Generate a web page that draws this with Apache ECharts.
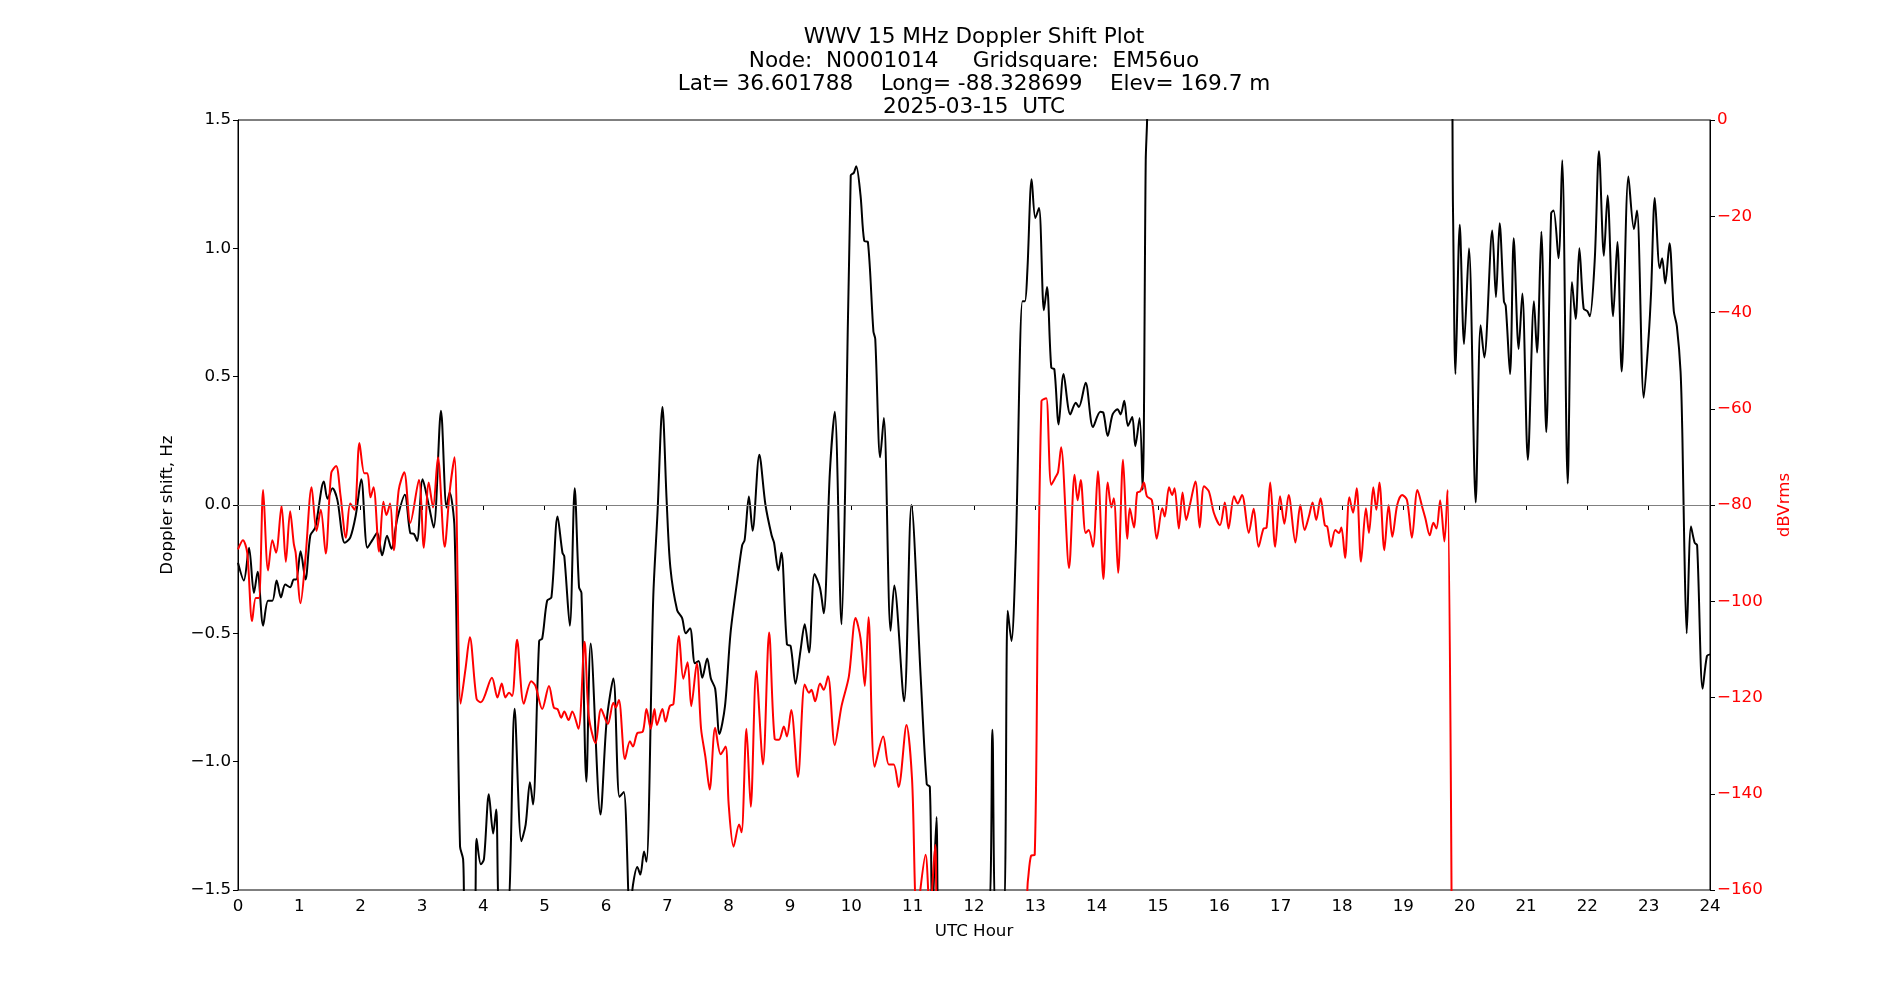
<!DOCTYPE html>
<html>
<head>
<meta charset="utf-8">
<script src="https://cdn.jsdelivr.net/npm/echarts@6/dist/echarts.min.js"></script>
<style>
html,body{margin:0;padding:0;background:#fff;}
#chart{width:1900px;height:1000px;}
</style>
</head>
<body>
<div id="chart"></div>
<script>
// ---- Data ----
const titleLines = [
  "WWV 15 MHz Doppler Shift Plot",
  "Node:  N0001014     Gridsquare:  EM56uo",
  "Lat= 36.601788    Long= -88.328699    Elev= 169.7 m",
  "2025-03-15  UTC"
];

// Doppler shift (Hz), left axis. Values beyond +/-1.5 run off the plot.
const dopplerHours = [
  0,0.095,0.18,0.26,0.32,0.41,0.49,0.56,0.63,0.70,0.77,0.85,0.91,0.95,1.02,1.10,1.18,1.26,1.40,1.46,
  1.54,1.62,1.74,1.83,1.92,2.01,2.11,2.19,2.27,2.35,2.43,2.50,2.60,2.72,2.81,2.87,2.92,3.01,3.11,3.19,
  3.31,3.40,3.45,3.53,3.62,3.67,3.71,3.85,3.89,3.96,4.01,4.09,4.16,4.21,4.27,4.39,4.51,4.62,4.69,4.76,
  4.81,4.91,4.96,5.04,5.11,5.21,5.29,5.32,5.41,5.49,5.56,5.60,5.68,5.75,5.91,6.01,6.12,6.22,6.29,6.39,
  6.44,6.51,6.56,6.62,6.66,6.77,6.84,6.92,6.99,7.05,7.16,7.24,7.30,7.37,7.45,7.51,7.57,7.65,7.71,7.78,
  7.85,7.94,8.03,8.14,8.22,8.26,8.33,8.39,8.50,8.60,8.70,8.74,8.81,8.86,8.95,9.01,9.09,9.17,9.24,9.31,
  9.40,9.49,9.55,9.65,9.73,9.84,9.90,9.99,10.04,10.08,10.15,10.21,10.27,10.36,10.39,10.47,10.53,10.64,10.70,10.86,
  10.98,11.13,11.23,11.28,11.32,11.39,11.43,12.23,12.30,12.36,12.48,12.55,12.61,12.68,12.79,12.83,12.87,12.94,13.00,13.06,
  13.14,13.19,13.26,13.31,13.38,13.46,13.57,13.66,13.71,13.82,13.94,14.06,14.11,14.18,14.26,14.34,14.39,14.45,14.51,14.58,
  14.63,14.70,14.75,14.80,14.82,14.86,19.77,19.81,19.85,19.92,19.99,20.07,20.18,20.26,20.32,20.45,20.51,20.57,20.64,20.67,
  20.74,20.80,20.88,20.94,21.03,21.13,21.18,21.25,21.33,21.41,21.45,21.53,21.59,21.68,21.75,21.81,21.87,21.94,22.00,22.04,
  22.12,22.19,22.27,22.33,22.42,22.49,22.56,22.67,22.76,22.81,22.92,23.00,23.04,23.10,23.18,23.22,23.27,23.34,23.41,23.46,
  23.52,23.55,23.58,23.62,23.69,23.75,23.79,23.88,23.95,24.00
];
const dopplerHz = [
  -0.225,-0.294,-0.167,-0.343,-0.26,-0.47,-0.373,-0.373,-0.294,-0.36,-0.31,-0.32,-0.29,-0.29,-0.18,-0.29,-0.118,-0.088,0.092,0.024,
  0.065,0.02,-0.147,-0.127,-0.04,0.10,-0.167,-0.137,-0.108,-0.196,-0.12,-0.17,-0.05,0.04,-0.11,-0.113,-0.14,0.10,0.0,-0.088,
  0.367,-0.01,0.05,-0.09,-1.33,-1.38,-1.6,-1.6,-1.30,-1.40,-1.38,-1.127,-1.28,-1.186,-1.6,-1.6,-0.794,-1.31,-1.245,-1.08,
  -1.167,-0.53,-0.52,-0.373,-0.36,-0.045,-0.186,-0.2,-0.47,0.065,-0.32,-0.343,-1.078,-0.54,-1.206,-0.843,-0.676,-1.137,-1.118,-1.6,
  -1.48,-1.41,-1.44,-1.35,-1.39,-0.363,-0.03,0.382,0.01,-0.245,-0.41,-0.44,-0.5,-0.48,-0.617,-0.608,-0.673,-0.598,-0.676,-0.716,
  -0.892,-0.784,-0.5,-0.294,-0.157,-0.137,0.033,-0.10,0.196,0.0,-0.118,-0.147,-0.255,-0.186,-0.543,-0.549,-0.696,-0.569,-0.465,-0.575,
  -0.269,-0.324,-0.422,0.127,0.363,-0.465,0.069,1.284,1.294,1.32,1.206,1.029,1.025,0.676,0.647,0.186,0.339,-0.49,-0.314,-0.765,
  0.0,-0.667,-1.088,-1.098,-1.6,-1.216,-1.6,-1.6,-0.876,-1.6,-1.6,-0.412,-0.53,-0.186,0.794,0.794,0.912,1.269,1.118,1.157,
  0.759,0.849,0.535,0.529,0.314,0.51,0.353,0.398,0.382,0.476,0.304,0.363,0.359,0.269,0.353,0.373,0.353,0.406,0.308,0.343,
  0.229,0.339,0.059,1.343,1.48,1.8,1.8,1.147,0.51,1.092,0.627,1.0,0.01,0.70,0.575,1.069,0.81,1.098,0.794,0.775,
  0.51,1.039,0.608,0.824,0.176,0.794,0.594,1.065,0.284,1.137,1.147,0.961,1.343,0.084,0.869,0.725,1.0,0.765,0.755,0.735,
  0.951,1.378,0.971,1.206,0.735,1.025,0.52,1.28,1.075,1.147,0.418,0.657,0.833,1.196,0.922,0.961,0.863,1.02,0.755,0.696,
  0.52,0.265,-0.147,-0.5,-0.084,-0.147,-0.157,-0.716,-0.588,-0.582
];

// Signal level (dBVrms), right axis. Values below -160 run off the plot.
const powerHours = [
  0,0.08,0.15,0.23,0.29,0.34,0.41,0.49,0.56,0.62,0.71,0.78,0.85,0.91,0.94,1.02,1.10,1.20,1.28,1.35,
  1.43,1.52,1.60,1.67,1.76,1.83,1.90,1.98,2.06,2.11,2.16,2.21,2.30,2.37,2.42,2.48,2.54,2.62,2.71,2.81,
  2.95,3.03,3.11,3.18,3.26,3.37,3.45,3.53,3.63,3.71,3.78,3.89,3.96,4.14,4.23,4.30,4.36,4.42,4.47,4.55,
  4.66,4.78,4.85,4.96,5.07,5.15,5.21,5.27,5.32,5.39,5.45,5.55,5.65,5.72,5.83,5.92,6.03,6.12,6.16,6.21,
  6.31,6.39,6.44,6.51,6.60,6.66,6.73,6.79,6.83,6.92,6.97,7.04,7.10,7.19,7.26,7.33,7.39,7.48,7.55,7.62,
  7.69,7.78,7.87,7.95,8.00,8.08,8.17,8.21,8.29,8.36,8.45,8.56,8.66,8.75,8.82,8.90,8.95,9.02,9.13,9.24,
  9.31,9.35,9.41,9.49,9.55,9.62,9.73,9.84,9.96,10.07,10.15,10.22,10.28,10.38,10.52,10.61,10.69,10.77,10.90,10.99,
  11.07,11.21,11.28,11.37,11.41,12.81,12.88,12.93,12.99,13.04,13.10,13.14,13.18,13.26,13.33,13.37,13.42,13.55,13.64,13.69,
  13.74,13.82,13.87,13.94,14.02,14.11,14.18,14.24,14.28,14.35,14.43,14.50,14.54,14.61,14.66,14.71,14.77,14.82,14.90,14.98,
  15.07,15.11,15.18,15.23,15.27,15.34,15.40,15.46,15.52,15.61,15.68,15.75,15.83,15.91,16.01,16.09,16.15,16.24,16.30,16.37,
  16.48,16.56,16.64,16.72,16.77,16.83,16.91,16.99,17.06,17.13,17.24,17.32,17.39,17.46,17.52,17.58,17.65,17.72,17.76,17.82,
  17.89,17.95,17.99,18.05,18.12,18.18,18.24,18.31,18.39,18.44,18.51,18.56,18.61,18.69,18.76,18.82,18.90,18.98,19.06,19.14,
  19.23,19.31,19.36,19.43,19.49,19.54,19.60,19.67,19.72,19.79
];
const powerDb = [
  -89.2,-87.3,-89.9,-104.1,-99.3,-99.3,-76.9,-93.6,-87.3,-89.9,-80.2,-91.8,-81.3,-88.1,-89.9,-100.4,-91,-76.3,-85.4,-81,
  -90.1,-73.4,-71.9,-77.9,-86.8,-79.7,-81,-67.1,-73.4,-73.4,-78.4,-76.3,-89.7,-79.3,-82.1,-79.7,-89.4,-76.9,-73.2,-83.7,
  -74.8,-88.9,-75.3,-80.5,-70.1,-88.7,-77.4,-70.1,-121.3,-114,-107.5,-120.3,-121,-115.9,-120,-117.1,-120,-119,-119.7,-108,
  -121.3,-116.6,-117.6,-122.4,-117.6,-122.1,-122.4,-124.2,-122.9,-124.7,-122.9,-126.5,-108.4,-123.9,-129.5,-122.4,-125.5,-121.1,-122.1,-120.5,
  -132.8,-129.1,-130.2,-127.4,-127.1,-122.4,-126.5,-122.4,-125.7,-122.4,-125,-121.8,-121.3,-107.2,-116.1,-112.7,-121.8,-112.9,-126.5,-132.3,
  -139.1,-126.3,-131.8,-130.2,-142.2,-151,-146.4,-148,-126.5,-142.7,-114.5,-133.9,-106.5,-128.6,-128.8,-126,-128.1,-122.6,-136.5,-117.3,
  -119,-118.4,-120.8,-117.1,-118.4,-115.6,-129.9,-121.8,-115.6,-103.5,-107.7,-117.6,-103.3,-134.4,-128.1,-133.9,-133.9,-138.6,-125.7,-137,
  -165,-152.7,-165,-150.6,-165,-165,-157.9,-152.9,-152.7,-102.5,-58.4,-58.0,-57.8,-75.8,-74.2,-73.2,-68,-93.1,-73.7,-79,
  -74.8,-85.8,-85.2,-88.7,-73,-95.4,-75.3,-80.5,-78.6,-94.1,-70.6,-87,-80.7,-84.7,-77.4,-77.2,-75.3,-78.2,-79,-87,
  -80.7,-82.4,-76.3,-77.9,-76.5,-84.9,-77.4,-83.1,-80,-75.1,-84.7,-76.1,-77.2,-81.6,-84.2,-79.5,-84.9,-78.2,-79.7,-77.9,
  -85.8,-80.8,-88.7,-84.9,-84.7,-75.3,-88.7,-78.2,-83.9,-77.9,-87.8,-80,-85.2,-82.4,-79.5,-83.1,-78.6,-84.2,-84.5,-88.7,
  -85.2,-85.8,-84.7,-91,-78.4,-81.6,-76.5,-91.8,-80.7,-85.8,-76.3,-81,-75.3,-89.4,-80,-86.6,-80,-77.9,-79,-86.8,
  -76.9,-80.5,-82.8,-86.3,-83.7,-84.9,-79,-87.6,-76.9,-170
];

// ---- Chart ----
const FONT = 'DejaVu Sans';
const minus = s => String(s).replace('-', '\u2212');
const pair = (xs, ys) => xs.map((x, i) => [x, ys[i]]);

const chart = echarts.init(document.getElementById('chart'), null, {renderer: 'canvas'});
chart.setOption({
  animation: false,
  backgroundColor: '#ffffff',
  textStyle: {fontFamily: FONT},
  title: {
    text: titleLines.join('\n'),
    left: 969,
    top: 21,
    textAlign: 'center',
    textStyle: {fontFamily: FONT, fontSize: 21.6, fontWeight: 'normal', color: '#000', lineHeight: 23.3}
  },
  grid: {
    left: 238, right: 190, top: 120, bottom: 110,
    show: true, borderColor: '#000', borderWidth: 1, backgroundColor: 'transparent'
  },
  xAxis: {
    type: 'value', min: 0, max: 24, interval: 1,
    name: 'UTC Hour', nameLocation: 'middle', nameGap: 33,
    nameTextStyle: {fontFamily: FONT, fontSize: 16.7, color: '#000'},
    axisLine: {show: true, lineStyle: {color: '#000', width: 1}},
    axisTick: {show: true, length: 5, inside: false, lineStyle: {color: '#000'}},
    axisLabel: {fontFamily: FONT, fontSize: 16.7, color: '#000', margin: 8},
    splitLine: {show: false}
  },
  yAxis: [
    {
      type: 'value', min: -1.5, max: 1.5, interval: 0.5, position: 'left',
      name: 'Doppler shift, Hz', nameLocation: 'middle', nameRotate: 90, nameGap: 62,
      nameTextStyle: {fontFamily: FONT, fontSize: 16.7, color: '#000'},
      axisLine: {show: true, lineStyle: {color: '#000', width: 1}},
      axisTick: {show: true, length: 5, inside: false, lineStyle: {color: '#000'}},
      axisLabel: {fontFamily: FONT, fontSize: 16.7, color: '#000', margin: 7,
        formatter: v => minus(v.toFixed(1))},
      splitLine: {show: false}
    },
    {
      type: 'value', min: -160, max: 0, interval: 20, position: 'right',
      name: 'dBVrms', nameLocation: 'middle', nameRotate: 90, nameGap: 66,
      nameTextStyle: {fontFamily: FONT, fontSize: 16.7, color: '#ff0000'},
      axisLine: {show: true, lineStyle: {color: '#000', width: 1}},
      axisTick: {show: true, length: 5, inside: false, lineStyle: {color: '#000'}},
      axisLabel: {fontFamily: FONT, fontSize: 16.7, color: '#ff0000', margin: 7,
        formatter: v => minus(v)},
      splitLine: {show: false}
    }
  ],
  series: [
    {
      name: 'Doppler', type: 'line', yAxisIndex: 0,
      data: pair(dopplerHours, dopplerHz),
      showSymbol: false, smooth: 0.3, clip: true, z: 2,
      lineStyle: {color: '#000000', width: 2},
      itemStyle: {color: '#000000'},
      markLine: {
        silent: true, symbol: 'none', animation: false,
        label: {show: false},
        lineStyle: {color: '#808080', width: 1, type: 'solid'},
        data: [{yAxis: 0}]
      }
    },
    {
      name: 'Power', type: 'line', yAxisIndex: 1,
      data: pair(powerHours, powerDb),
      showSymbol: false, smooth: 0.3, clip: true, z: 3,
      lineStyle: {color: '#ff0000', width: 2},
      itemStyle: {color: '#ff0000'}
    }
  ]
});
</script>
</body>
</html>
